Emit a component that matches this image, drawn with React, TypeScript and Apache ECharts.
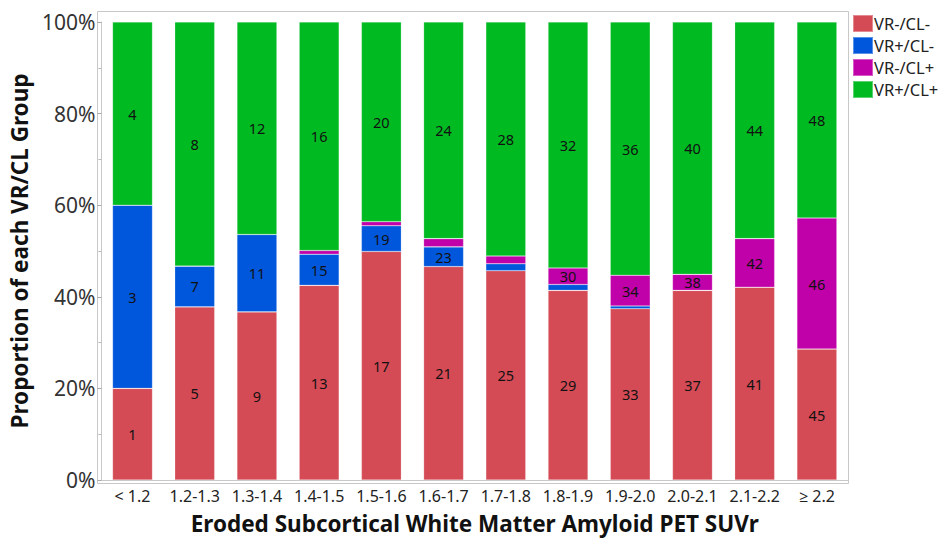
import React, { useEffect, useRef } from "react";
import * as echarts from "echarts";

// SUVr bins along the x axis
const categories = [
  "< 1.2", "1.2-1.3", "1.3-1.4", "1.4-1.5", "1.5-1.6", "1.6-1.7",
  "1.7-1.8", "1.8-1.9", "1.9-2.0", "2.0-2.1", "2.1-2.2", "≥ 2.2",
];

// Percentage of each VR/CL group within a bin
const vrNegClNeg = [20.0, 37.8, 36.7, 42.5, 49.9, 46.6, 45.7, 41.4, 37.4, 41.4, 42.1, 28.6];
const vrPosClNeg = [40.0, 8.9, 16.9, 6.8, 5.6, 4.3, 1.5, 1.3, 0.6, 0, 0, 0];
const vrNegClPos = [0, 0, 0, 0.8, 0.9, 1.8, 1.7, 3.6, 6.7, 3.5, 10.6, 28.6];
const vrPosClPos = [40.0, 53.3, 46.4, 49.9, 43.6, 47.3, 51.1, 53.7, 55.3, 55.1, 47.3, 42.8];

const groupNames = ["VR-/CL-", "VR+/CL-", "VR-/CL+", "VR+/CL+"];
const groupColors = ["#D44B56", "#0057DB", "#C000A8", "#00BA22"];
const groupValues = [vrNegClNeg, vrPosClNeg, vrNegClPos, vrPosClPos];
// position of each group inside the four-cell block numbered per bin
const groupCellOffset = [1, 3, 2, 4];

const yTicks = [0, 20, 40, 60, 80, 100];

const FONT = "'Noto Sans', 'Open Sans', sans-serif";

export default function App() {
  const ref = useRef<HTMLDivElement>(null);

  useEffect(() => {
    if (!ref.current) return;
    const chart = echarts.init(ref.current, undefined, { renderer: "svg" });

    const series = groupValues.map((vals, si) => ({
      name: groupNames[si],
      type: "bar",
      stack: "total",
      barWidth: 40,
      data: vals,
      itemStyle: { color: groupColors[si], borderColor: "rgba(255,255,255,0.35)", borderWidth: 0.6 },
      label: {
        show: true,
        position: "inside",
        color: "#111",
        fontSize: 14.5,
        fontFamily: FONT,
        // cell number: four cells per bin, counted bin by bin
        formatter: (p: any) => (p.value >= 3 ? String(p.dataIndex * 4 + groupCellOffset[si]) : ""),
      },
    }));

    chart.setOption({
      animation: false,
      textStyle: { fontFamily: FONT },
      legend: {
        orient: "vertical",
        left: 852,
        top: 14,
        padding: 0,
        itemWidth: 20,
        itemHeight: 17,
        itemGap: 3,
        icon: "rect",
        selectedMode: false,
        textStyle: { fontSize: 16.5, lineHeight: 19, color: "#222", fontFamily: FONT, padding: [0, 0, 0, -4] },
        data: groupNames,
      },
      grid: { left: 97, right: 98, top: 22, bottom: 57 },
      graphic: [
        {
          type: "rect",
          shape: { x: 97.5, y: 11.5, width: 751, height: 472 },
          style: { fill: "none", stroke: "#c8c8c8", lineWidth: 1 },
          silent: true,
        },
      ],
      xAxis: {
        type: "category",
        data: categories,
        axisLine: { show: true, lineStyle: { color: "#c8c8c8" } },
        axisTick: { show: false },
        axisLabel: { fontSize: 16, color: "#222", margin: 8, interval: 0, fontFamily: FONT },
        name: "Eroded Subcortical White Matter Amyloid PET SUVr",
        nameLocation: "middle",
        nameGap: 32,
        nameTextStyle: { fontSize: 22.5, fontWeight: "bold", color: "#111", fontFamily: FONT },
      },
      yAxis: {
        type: "value",
        min: yTicks[0],
        max: yTicks[yTicks.length - 1],
        interval: 20,
        axisLine: { show: true, lineStyle: { color: "#c8c8c8" } },
        axisTick: { show: true, length: 4, lineStyle: { color: "#aaa" } },
        minorTick: { show: true, splitNumber: 2, length: 3, lineStyle: { color: "#bbb" } },
        splitLine: { show: false },
        axisLabel: { fontSize: 21, color: "#333", margin: 6, fontFamily: FONT, formatter: "{value}%" },
        name: "Proportion of each VR/CL Group",
        nameLocation: "middle",
        nameGap: 63,
        nameTextStyle: { fontSize: 22.5, fontWeight: "bold", color: "#111", fontFamily: FONT },
      },
      series,
    });

    return () => chart.dispose();
  }, []);

  return <div ref={ref} style={{ width: 946, height: 540, position: "absolute", left: 0, top: 0, background: "#fff" }} />;
}
